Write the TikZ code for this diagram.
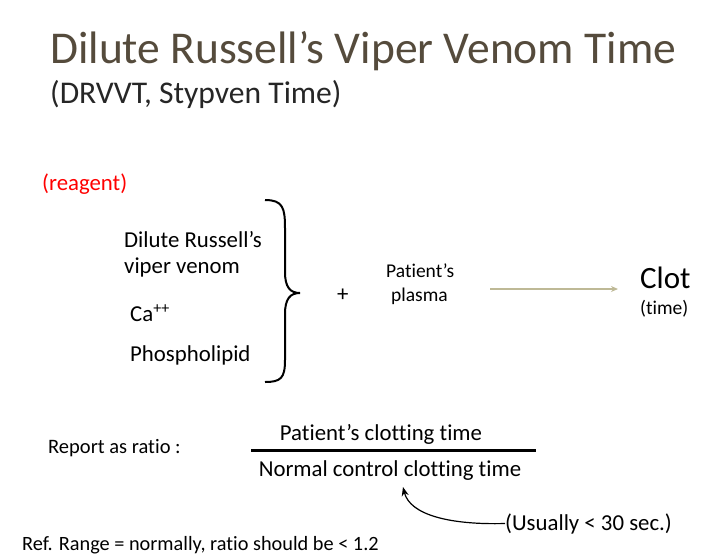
\documentclass[tikz,border=0pt]{standalone}
\usepackage{fontspec}
\setmainfont[Ligatures=NoCommon]{Carlito}
\usetikzlibrary{arrows.meta}
\definecolor{titlec}{RGB}{85,75,60}
\definecolor{arrc}{RGB}{190,185,150}
\tikzset{txt/.style={anchor=base west,inner sep=0pt,font=\fontsize{22.8}{25}\selectfont},
small/.style={anchor=base west,inner sep=0pt,font=\fontsize{19.5}{22}\selectfont}}
\begin{document}
\begin{tikzpicture}[x=1pt,y=-1pt]
\useasboundingbox (0,0) rectangle (716,558);
\node[anchor=base west,inner sep=0pt,text=titlec,font=\fontsize{45.5}{48}\selectfont] (title) at (50,63) {Dilute Russell’s Viper Venom Time};
\node[anchor=base west,inner sep=0pt,text=black!85,font=\fontsize{31.6}{34}\selectfont] (sub) at (50,103) {(DRVVT, Stypven Time)};
\node[txt,text=red] (reag) at (42,190) {(reagent)};
\node[txt] (l1) at (124,247) {Dilute Russell’s};
\node[txt] (l2) at (124,273) {viper venom};
\node[txt] (ca) at (130,321) {Ca\textsuperscript{++}};
\node[txt] (ph) at (130,361) {Phospholipid};
\draw[line width=2] (265,200) .. controls (283,200) and (285,208) .. (285,228) -- (285,272) .. controls (285,287) and (290,293) .. (300,293) .. controls (290,293) and (285,299) .. (285,314) -- (285,360) .. controls (285,378) and (281,382) .. (265,382);
\node[txt] (plus) at (337,301) {+};
\node[small] (p1) at (386,277) {Patient’s};
\node[small] (p2) at (391,301) {plasma};
\coordinate (as) at (490,289);
\node[anchor=base west,inner sep=0pt,font=\fontsize{31}{34}\selectfont] (clot) at (640,288) {Clot};
\node[small] (time) at (640,314) {(time)};
\draw[arrc,line width=2,-{Stealth[length=7,width=6]}] (as) -- (618,289);
\node[anchor=base west,inner sep=0pt,font=\fontsize{20.5}{22}\selectfont] (rep) at (48,453) {Report as ratio :};
\node[txt,anchor=base] (num) at (381,440) {Patient’s clotting time};
\node[txt,anchor=base] (den) at (390,476) {Normal control clotting time};
\draw[line width=3] (251,450) -- (536,450);
\node[txt] (us) at (505,530) {(Usually < 30 sec.)};
\draw[line width=1.2,-{Stealth[length=9,width=7]}] (us.west) .. controls (450,525) and (410,515) .. (403,487);
\node[anchor=base west,inner sep=0pt,font=\fontsize{20.3}{22}\selectfont] (ref) at (22,550) {Ref. Range = normally, ratio should be < 1.2};
\end{tikzpicture}
\end{document}
